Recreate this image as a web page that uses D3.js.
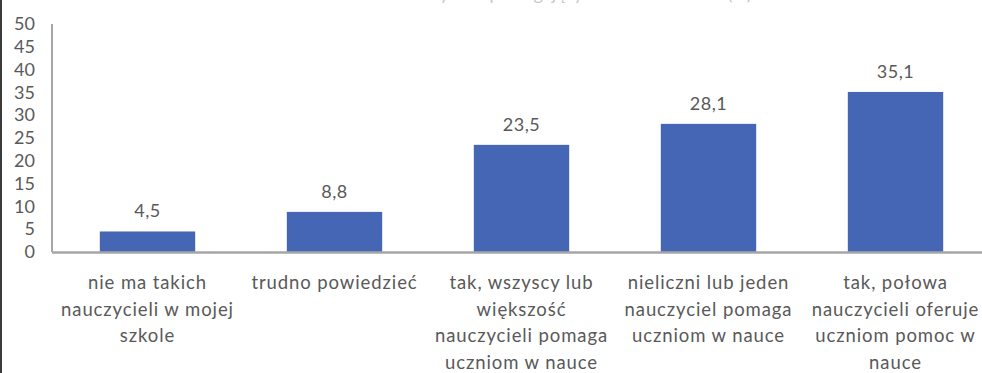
<!DOCTYPE html>
<html>
<head>
<meta charset="utf-8">
<script src="https://cdn.jsdelivr.net/npm/d3@7"></script>
<style>
  html, body { margin: 0; padding: 0; background: #fff; }
  svg { display: block; }
  text { font-family: Lato, "Open Sans", sans-serif; fill: #595959; }
</style>
</head>
<body>
<svg id="chart" width="982" height="373"></svg>
<script>
// Survey answers (percent of respondents)
const categories = [
  "nie ma takich nauczycieli w mojej szkole",
  "trudno powiedzieć",
  "tak, wszyscy lub większość nauczycieli pomaga uczniom w nauce",
  "nieliczni lub jeden nauczyciel pomaga uczniom w nauce",
  "tak, połowa nauczycieli oferuje uczniom pomoc w nauce"
];
const categoryLines = [
  ["nie ma takich", "nauczycieli w mojej", "szkole"],
  ["trudno powiedzieć"],
  ["tak, wszyscy lub", "większość", "nauczycieli pomaga", "uczniom w nauce"],
  ["nieliczni lub jeden", "nauczyciel pomaga", "uczniom w nauce"],
  ["tak, połowa", "nauczycieli oferuje", "uczniom pomoc w", "nauce"]
];
const values = [4.5, 8.8, 23.5, 28.1, 35.1];
const valueLabels = ["4,5", "8,8", "23,5", "28,1", "35,1"];
const yTicks = [0, 5, 10, 15, 20, 25, 30, 35, 40, 45, 50];
const chartTitle = "Nauczyciele pomagający uczniom w nauce (%)";

const svg = d3.select("#chart");

const x = d3.scaleBand()
  .domain(categories)
  .range([54, 989])
  .paddingInner(0.49)
  .paddingOuter(0.245);

const y = d3.scaleLinear()
  .domain([0, 50])
  .range([252, 24]);

// frame edge on the left
svg.append("line")
  .attr("x1", 1).attr("x2", 1)
  .attr("y1", 0).attr("y2", 373)
  .attr("stroke", "#3a3a3a").attr("stroke-width", 2);

// title, running off the top of the frame
svg.append("text")
  .attr("x", 571).attr("y", 0)
  .attr("text-anchor", "middle")
  .style("font-size", "18px")
  .style("fill", "#c8c8c8")
  .text(chartTitle);

// y axis: labels only, plus a plain vertical rule
const yAxis = d3.axisLeft(y)
  .tickValues(yTicks)
  .tickSize(0)
  .tickPadding(0)
  .tickFormat(d3.format("d"));

const gy = svg.append("g")
  .attr("transform", "translate(35,0)")
  .call(yAxis);
gy.select(".domain").remove();
gy.selectAll("text")
  .attr("x", 0)
  .style("font-family", "Lato, 'Open Sans', sans-serif")
  .style("font-size", "18px")
  .style("fill", "#595959");

svg.append("line")
  .attr("x1", 52).attr("x2", 52)
  .attr("y1", y(50)).attr("y2", y(0))
  .attr("stroke", "#a6a6a6").attr("stroke-width", 2);

// bars
svg.selectAll("rect.bar")
  .data(values)
  .join("rect")
  .attr("class", "bar")
  .attr("x", (d, i) => x(categories[i]))
  .attr("y", d => y(d))
  .attr("width", x.bandwidth())
  .attr("height", d => y(0) - y(d))
  .attr("fill", "#4565b5");

// x axis rule
svg.append("line")
  .attr("x1", 52).attr("x2", 982)
  .attr("y1", y(0) + 0.5).attr("y2", y(0) + 0.5)
  .attr("stroke", "#a6a6a6").attr("stroke-width", 2.5);

// value labels above bars
svg.selectAll("text.val")
  .data(values)
  .join("text")
  .attr("class", "val")
  .attr("x", (d, i) => x(categories[i]) + x.bandwidth() / 2)
  .attr("y", d => y(d) - 14)
  .attr("text-anchor", "middle")
  .style("font-size", "18px")
  .style("letter-spacing", "0.5px")
  .text((d, i) => valueLabels[i]);

// category labels, wrapped
const cat = svg.selectAll("text.cat")
  .data(categories)
  .join("text")
  .attr("class", "cat")
  .attr("text-anchor", "middle")
  .style("font-size", "18.5px")
  .style("letter-spacing", "0.9px");

cat.each(function (d, i) {
  const cx = x(d) + x.bandwidth() / 2;
  d3.select(this).selectAll("tspan")
    .data(categoryLines[i])
    .join("tspan")
    .attr("x", cx)
    .attr("y", (l, j) => 289 + j * 26.5)
    .text(l => l);
});
</script>
</body>
</html>
